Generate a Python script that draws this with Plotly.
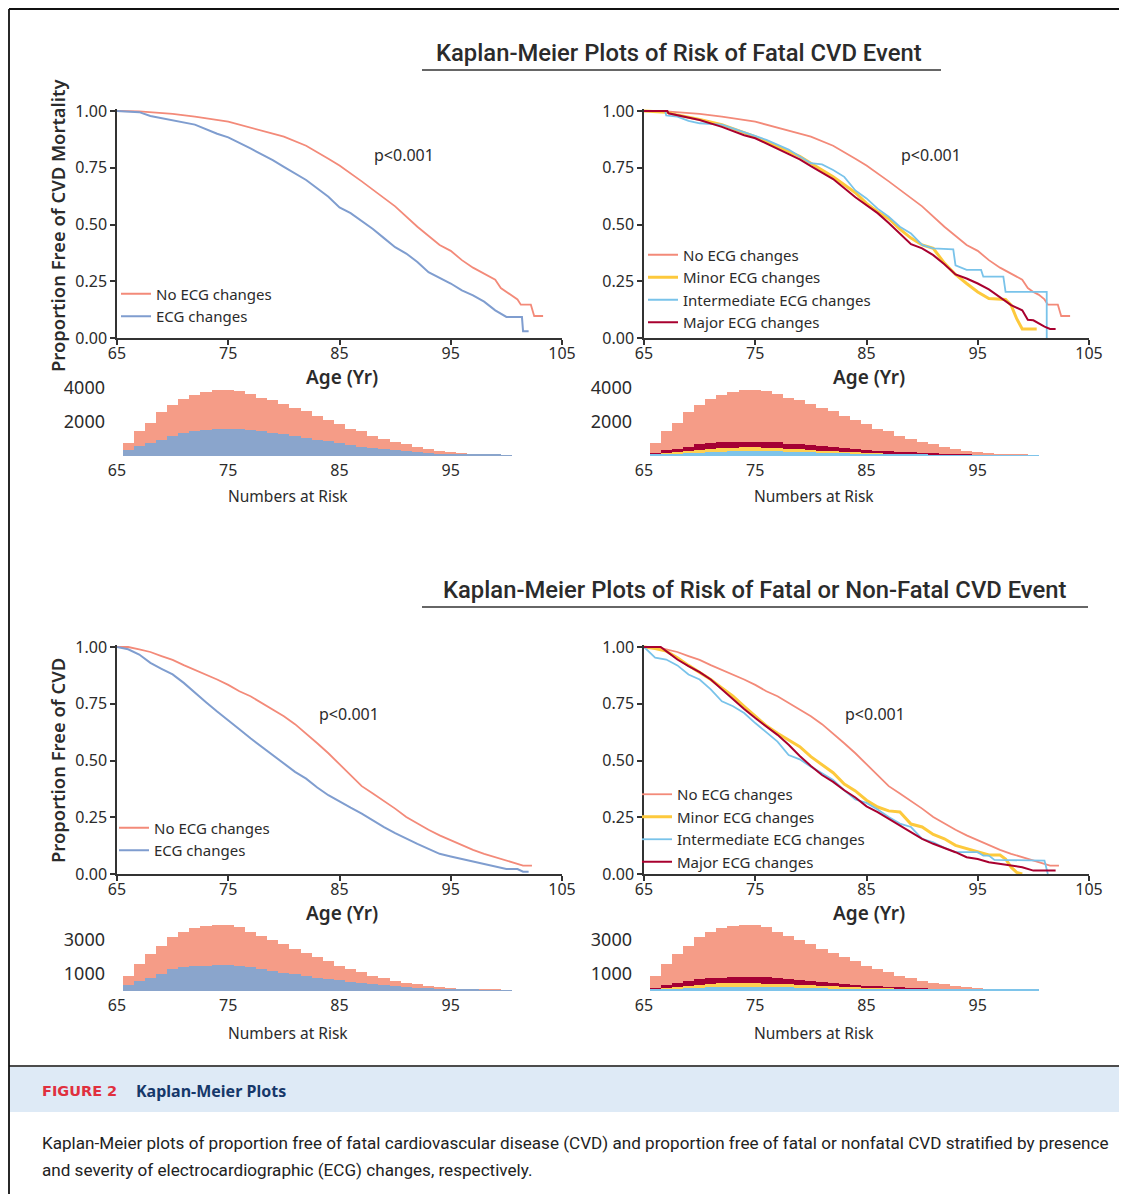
import plotly.graph_objects as go

# page body adds an 8px offset; the figure is sized so it ends at the window edge
OX, OY = 8, 8
W, H = 1127 - 2 * OX, 1202 - 2 * OY
def px(x): return (x - OX) / W
def py(y): return 1 - (y - OY) / H

# ---------------- DATA ----------------
# Fatal CVD (top row)
f_none_age = [65, 67, 70, 72, 75, 77, 79, 80, 82, 84, 85, 87, 89, 90, 92, 94, 95, 96, 97, 98, 99, 99.5, 100, 100.5, 101, 101.3, 102.2, 102.5, 103.3]
f_none_surv = [1.0, 0.998, 0.987, 0.975, 0.953, 0.928, 0.90, 0.887, 0.847, 0.79, 0.76, 0.69, 0.615, 0.58, 0.49, 0.41, 0.384, 0.343, 0.31, 0.285, 0.257, 0.22, 0.203, 0.19, 0.17, 0.147, 0.147, 0.097, 0.097]

f_ecg_age = [65, 67, 68, 70, 72, 74, 75, 77, 79, 80, 82, 84, 85, 86, 87, 88, 89, 90, 91, 92, 93, 94, 95, 96, 97, 98, 99, 100, 101.4, 101.5, 102]
f_ecg_surv = [1.0, 0.995, 0.978, 0.96, 0.94, 0.90, 0.884, 0.835, 0.784, 0.754, 0.696, 0.622, 0.575, 0.55, 0.515, 0.48, 0.44, 0.40, 0.372, 0.335, 0.29, 0.265, 0.24, 0.21, 0.188, 0.16, 0.122, 0.093, 0.093, 0.03, 0.03]

f_minor_age = [65, 67, 68, 70, 72, 74, 75, 77, 79, 80, 82, 84, 85, 86, 87, 88, 89, 90, 91, 92, 93, 94, 95, 96, 97.5, 98, 98.5, 99, 100.3]
f_minor_surv = [1.0, 0.995, 0.982, 0.963, 0.94, 0.905, 0.887, 0.843, 0.80, 0.77, 0.71, 0.64, 0.593, 0.556, 0.526, 0.48, 0.44, 0.41, 0.395, 0.33, 0.28, 0.24, 0.203, 0.174, 0.17, 0.145, 0.085, 0.04, 0.04]

f_inter_age = [65, 66.9, 67, 68, 69, 70, 72, 74, 76, 78, 80, 81, 82, 83, 84, 85, 86, 87, 88, 89, 90, 91, 92.8, 93, 94, 95.3, 95.5, 97.3, 97.5, 101.2, 101.2]
f_inter_surv = [1.0, 1.0, 0.98, 0.975, 0.957, 0.946, 0.94, 0.905, 0.873, 0.83, 0.77, 0.765, 0.74, 0.71, 0.65, 0.615, 0.57, 0.534, 0.49, 0.46, 0.41, 0.395, 0.39, 0.32, 0.30, 0.30, 0.27, 0.27, 0.203, 0.203, 0.0]

f_major_age = [65, 67.1, 67.2, 68, 70, 72, 74, 75, 77, 79, 80, 82, 84, 85, 86, 87, 88, 89, 90, 91, 92, 93, 94, 95, 96, 97, 98, 99, 99.5, 100, 101, 101.5, 102]
f_major_surv = [1.0, 1.0, 0.99, 0.982, 0.96, 0.93, 0.893, 0.88, 0.835, 0.787, 0.757, 0.70, 0.62, 0.585, 0.55, 0.507, 0.46, 0.413, 0.395, 0.365, 0.325, 0.28, 0.262, 0.24, 0.214, 0.18, 0.145, 0.122, 0.08, 0.078, 0.05, 0.04, 0.04]

# Fatal or non-fatal CVD (bottom row)
a_none_age = list(range(65, 102)) + [101.5, 102.3]
a_none_surv = [1.0, 1.0, 0.99, 0.978, 0.96, 0.943, 0.92, 0.90, 0.88, 0.857, 0.833, 0.805, 0.783, 0.754, 0.724, 0.695, 0.66, 0.62, 0.576, 0.532, 0.483, 0.436, 0.387, 0.355, 0.322, 0.288, 0.251, 0.222, 0.195, 0.17, 0.148, 0.126, 0.106, 0.089, 0.074, 0.062, 0.047, 0.037, 0.037]

a_ecg_age = list(range(65, 102)) + [101.5, 102]
a_ecg_surv = [1.0, 0.99, 0.967, 0.93, 0.904, 0.879, 0.842, 0.798, 0.757, 0.716, 0.675, 0.638, 0.598, 0.562, 0.524, 0.488, 0.45, 0.42, 0.381, 0.347, 0.318, 0.292, 0.266, 0.236, 0.207, 0.18, 0.155, 0.133, 0.111, 0.089, 0.077, 0.066, 0.055, 0.041, 0.032, 0.022, 0.022, 0.01, 0.01]

a_minor_age = list(range(65, 98)) + [97.5, 98, 98.5, 99]
a_minor_surv = [1.0, 0.993, 0.982, 0.953, 0.919, 0.886, 0.857, 0.82, 0.783, 0.739, 0.694, 0.653, 0.62, 0.59, 0.561, 0.517, 0.48, 0.446, 0.396, 0.366, 0.325, 0.295, 0.278, 0.273, 0.22, 0.207, 0.174, 0.155, 0.126, 0.111, 0.099, 0.084, 0.084, 0.066, 0.03, 0.007, 0.0]

a_inter_age = [65, 65.5] + list(range(66, 94)) + [95, 95.5, 96, 96.5, 101, 101.3]
a_inter_surv = [1.0, 0.978, 0.953, 0.945, 0.919, 0.879, 0.857, 0.813, 0.761, 0.739, 0.709, 0.665, 0.623, 0.583, 0.524, 0.505, 0.473, 0.443, 0.414, 0.369, 0.328, 0.313, 0.284, 0.251, 0.222, 0.207, 0.155, 0.14, 0.115, 0.096, 0.096, 0.081, 0.081, 0.062, 0.059, 0.0]

a_major_age = [65, 66.5] + list(range(67, 101)) + [102]
a_major_surv = [1.0, 1.0, 0.982, 0.945, 0.916, 0.889, 0.857, 0.813, 0.768, 0.727, 0.687, 0.65, 0.613, 0.569, 0.52, 0.476, 0.436, 0.406, 0.369, 0.337, 0.298, 0.273, 0.244, 0.214, 0.185, 0.155, 0.133, 0.115, 0.096, 0.074, 0.066, 0.052, 0.044, 0.037, 0.03, 0.015, 0.015]

# Numbers at risk (1-year bins centred at ages 66..100)
risk_age = list(range(66, 101))
f_risk_none = [784, 1490, 1960, 2570, 3020, 3370, 3600, 3780, 3900, 3900, 3840, 3660, 3430, 3310, 3080, 2840, 2670, 2370, 2140, 1900, 1610, 1450, 1200, 1020, 840, 725, 550, 430, 310, 255, 196, 137, 137, 80, 0]
f_risk_ecg = [330, 570, 780, 960, 1200, 1370, 1490, 1550, 1610, 1610, 1610, 1550, 1490, 1370, 1310, 1200, 1080, 960, 900, 780, 670, 550, 490, 430, 370, 310, 250, 200, 140, 120, 80, 80, 60, 60, 45]
f_risk_major = [200, 370, 430, 550, 730, 780, 840, 840, 840, 840, 840, 840, 730, 730, 670, 610, 550, 490, 430, 370, 310, 310, 250, 250, 200, 200, 140, 140, 80, 40, 40, 0, 0, 0, 0]
f_risk_minor = [120, 200, 250, 310, 370, 430, 490, 490, 550, 550, 490, 490, 430, 430, 370, 310, 310, 250, 250, 200, 200, 140, 140, 120, 80, 40, 40, 40, 20, 20, 0, 0, 0, 0, 0]
f_risk_inter = [80, 120, 140, 200, 200, 250, 250, 310, 310, 310, 310, 290, 250, 250, 210, 200, 200, 160, 140, 120, 120, 100, 80, 80, 60, 40, 40, 40, 40, 30, 30, 30, 25, 25, 25]

a_risk_none = [900, 1590, 2180, 2650, 3180, 3470, 3700, 3820, 3880, 3880, 3760, 3470, 3230, 3000, 2760, 2470, 2230, 2000, 1760, 1470, 1290, 1120, 880, 760, 590, 470, 410, 290, 235, 176, 118, 118, 100, 60, 0]
a_risk_ecg = [350, 590, 760, 1000, 1290, 1410, 1470, 1470, 1530, 1530, 1470, 1410, 1290, 1180, 1060, 1000, 880, 760, 700, 650, 530, 470, 410, 350, 290, 235, 176, 157, 118, 100, 60, 60, 40, 40, 40]
a_risk_major = [176, 370, 490, 610, 730, 780, 780, 840, 840, 840, 840, 780, 730, 670, 610, 550, 490, 430, 370, 310, 310, 250, 250, 196, 176, 137, 118, 98, 60, 60, 40, 0, 0, 0, 0]
a_risk_minor = [137, 196, 250, 310, 370, 430, 490, 490, 490, 490, 430, 430, 430, 370, 370, 310, 310, 250, 250, 196, 196, 176, 137, 137, 118, 98, 60, 60, 40, 40, 0, 0, 0, 0, 0]
a_risk_inter = [78, 137, 137, 176, 196, 250, 250, 250, 250, 250, 250, 250, 250, 196, 176, 176, 137, 137, 118, 118, 98, 78, 78, 78, 78, 78, 60, 60, 60, 60, 60, 60, 60, 60, 60]

x_ticks = [65, 75, 85, 95, 105]
risk_ticks = [65, 75, 85, 95]
y_ticks = [0, 0.25, 0.5, 0.75, 1.0]

# ---------------- STYLE ----------------
FONT = "Noto Sans"
TXT = "#2b2b2b"
L_NONE, L_ECG = "#f38a79", "#7f9dcf"
L_MINOR, L_INTER, L_MAJOR = "#fdc93c", "#79c3ea", "#a8002f"
B_NONE, B_ECG = "#f59c87", "#8aa5cc"
B_MINOR, B_INTER, B_MAJOR = "#ffd052", "#7ec4ea", "#a50034"

fig = go.Figure()

km = [  # (xaxis, yaxis, legend, x0, x1, ytop, ybottom)
    ("x", "y", "legend", 117, 562, 111, 338),
    ("x2", "y2", "legend2", 644, 1089, 111, 338),
    ("x3", "y3", "legend3", 117, 562, 647, 874),
    ("x4", "y4", "legend4", 644, 1089, 647, 874),
]
hist = [
    ("x5", "y5", 117, 562, 388, 456, [2000, 4000]),
    ("x6", "y6", 644, 1089, 388, 456, [2000, 4000]),
    ("x7", "y7", 117, 562, 923, 991, [1000, 3000]),
    ("x8", "y8", 644, 1089, 923, 991, [1000, 3000]),
]

def line(ax, ay, lg, xs, ys, name, color, width=1.8):
    fig.add_trace(go.Scatter(x=xs, y=ys, mode="lines", name=name, xaxis=ax, yaxis=ay,
                             legend=lg, line=dict(color=color, width=width)))

# KM curves
line("x", "y", "legend", f_none_age, f_none_surv, "No ECG changes", L_NONE)
line("x", "y", "legend", f_ecg_age, f_ecg_surv, "ECG changes", L_ECG, 2)

line("x2", "y2", "legend2", f_none_age, f_none_surv, "No ECG changes", L_NONE)
line("x2", "y2", "legend2", f_minor_age, f_minor_surv, "Minor ECG changes", L_MINOR, 3)
line("x2", "y2", "legend2", f_inter_age, f_inter_surv, "Intermediate ECG changes", L_INTER, 1.8)
line("x2", "y2", "legend2", f_major_age, f_major_surv, "Major ECG changes", L_MAJOR, 2)

line("x3", "y3", "legend3", a_none_age, a_none_surv, "No ECG changes", L_NONE)
line("x3", "y3", "legend3", a_ecg_age, a_ecg_surv, "ECG changes", L_ECG, 2)

line("x4", "y4", "legend4", a_none_age, a_none_surv, "No ECG changes", L_NONE)
line("x4", "y4", "legend4", a_minor_age, a_minor_surv, "Minor ECG changes", L_MINOR, 3)
line("x4", "y4", "legend4", a_inter_age, a_inter_surv, "Intermediate ECG changes", L_INTER, 1.8)
line("x4", "y4", "legend4", a_major_age, a_major_surv, "Major ECG changes", L_MAJOR, 2)

def bars(ax, ay, vals, color):
    fig.add_trace(go.Bar(x=risk_age, y=vals, width=1, xaxis=ax, yaxis=ay, showlegend=False,
                         marker=dict(color=color, line=dict(width=0))))

bars("x5", "y5", f_risk_none, B_NONE)
bars("x5", "y5", f_risk_ecg, B_ECG)
bars("x6", "y6", f_risk_none, B_NONE)
bars("x6", "y6", f_risk_major, B_MAJOR)
bars("x6", "y6", f_risk_minor, B_MINOR)
bars("x6", "y6", f_risk_inter, B_INTER)
bars("x7", "y7", a_risk_none, B_NONE)
bars("x7", "y7", a_risk_ecg, B_ECG)
bars("x8", "y8", a_risk_none, B_NONE)
bars("x8", "y8", a_risk_major, B_MAJOR)
bars("x8", "y8", a_risk_minor, B_MINOR)
bars("x8", "y8", a_risk_inter, B_INTER)

layout = dict(
    width=W, height=H, autosize=False,
    margin=dict(l=0, r=0, t=0, b=0, autoexpand=False),
    paper_bgcolor="white", plot_bgcolor="white",
    font=dict(family=FONT, size=15, color=TXT),
    barmode="overlay", bargap=0,
)

tick_font = dict(family=FONT, size=16, color=TXT)
for ax, ay, lg, x0, x1, yt, yb in km:
    ytop = 1.01
    ytop_px = yb - ytop * (yb - yt)
    axstyle = dict(showline=True, linecolor="#333", linewidth=1.5, ticks="outside", ticklen=5,
                   tickwidth=1.5, tickcolor="#333", showgrid=False, zeroline=False,
                   tickfont=tick_font, automargin=False)
    layout["xaxis" + ax[1:]] = dict(domain=[px(x0), px(x1)], anchor=ay, range=[65, 105],
                                    tickvals=x_ticks, ticklabelstandoff=-5, **axstyle)
    layout["yaxis" + ay[1:]] = dict(domain=[py(yb), py(ytop_px)], anchor=ax, range=[0, ytop],
                                    tickvals=y_ticks, tickformat=".2f", **axstyle)

for ax, ay, x0, x1, yt, yb, yv in hist:
    layout["xaxis" + ax[1:]] = dict(domain=[px(x0), px(x1)], anchor=ay, range=[65, 105],
                                    tickvals=risk_ticks, showline=False, ticks="", showgrid=False,
                                    zeroline=False, tickfont=tick_font, ticklabelstandoff=3,
                                    automargin=False)
    layout["yaxis" + ay[1:]] = dict(domain=[py(yb), py(yt)], anchor=ax, range=[0, 4000],
                                    tickvals=yv, showline=False, ticks="", showgrid=False,
                                    zeroline=False, tickfont=dict(family=FONT, size=18, color=TXT),
                                    ticklabelstandoff=11, automargin=False)

leg = dict(bgcolor="rgba(0,0,0,0)", font=dict(family=FONT, size=15, color=TXT),
           xanchor="left", yanchor="top", tracegroupgap=0, itemwidth=30, traceorder="normal")
layout["legend"] = dict(x=px(116), y=py(277.5), **leg)
layout["legend2"] = dict(x=px(643), y=py(238.5), **leg)
layout["legend3"] = dict(x=px(114), y=py(811.5), **leg)
layout["legend4"] = dict(x=px(637), y=py(778), **leg)

ann = []
def A(text, x, y, size=15, color=TXT, xanchor="center", angle=0, family=FONT, weight=None):
    f = dict(family=family, size=size, color=color)
    if weight:
        f["weight"] = weight
    ann.append(dict(text=text, x=px(x), y=py(y), xref="paper", yref="paper", showarrow=False,
                    xanchor=xanchor, yanchor="middle", textangle=angle, font=f))

A("Kaplan-Meier Plots of Risk of Fatal CVD Event", 679, 53, size=23.8, family="Roboto", weight=500)
A("Kaplan-Meier Plots of Risk of Fatal or Non-Fatal CVD Event", 754, 590, size=23.8, family="Roboto", weight=500)
for xc in (342, 869):
    A("Age (Yr)", xc, 377, size=19, weight=600)
    A("Age (Yr)", xc, 913, size=19, weight=600)
for xc in (288, 814):
    A("Numbers at Risk", xc, 496, size=15.5)
    A("Numbers at Risk", xc, 1033, size=15.5)
A("p<0.001", 404, 155, size=16)
A("p<0.001", 931, 155, size=16)
A("p<0.001", 349, 714, size=16)
A("p<0.001", 875, 714, size=16)
A("Proportion Free of CVD Mortality", 57, 226, size=18.4, angle=-90, weight=600)
A("Proportion Free of CVD", 57, 761, size=18.4, angle=-90, weight=600)
A("FIGURE 2", 40, 1091, size=14.5, color="#e0303e", xanchor="left", family="DejaVu Sans", weight=700)
A("Kaplan-Meier Plots", 134, 1091, size=16, color="#16386a", xanchor="left", weight=700)
A("Kaplan-Meier plots of proportion free of fatal cardiovascular disease (CVD) and proportion free of fatal or nonfatal CVD stratified by presence",
  40, 1143, size=17.1, color="#222", xanchor="left", family="Roboto")
A("and severity of electrocardiographic (ECG) changes, respectively.",
  40, 1170, size=17.1, color="#222", xanchor="left", family="Roboto")
layout["annotations"] = ann

def seg(x0, y0, x1, y1, color="#222", width=1.6):
    return dict(type="line", xref="paper", yref="paper", x0=px(x0), y0=py(y0), x1=px(x1), y1=py(y1),
                line=dict(color=color, width=width))

layout["shapes"] = [
    dict(type="rect", xref="paper", yref="paper", x0=px(10), y0=py(1112), x1=1, y1=py(1067),
         fillcolor="#deeaf6", line=dict(width=0), layer="below"),
    seg(9, 9, 1127, 9, "#111", 1.8),
    seg(9, 9, 9, 1202, "#111", 1.8),
    seg(9, 1066, 1127, 1066, "#111", 1.5),
    seg(422, 70, 941, 70, "#333", 1.5),
    seg(422, 607, 1088, 607, "#333", 1.5),
]

fig.update_layout(**layout)
fig.write_html("out.html")
